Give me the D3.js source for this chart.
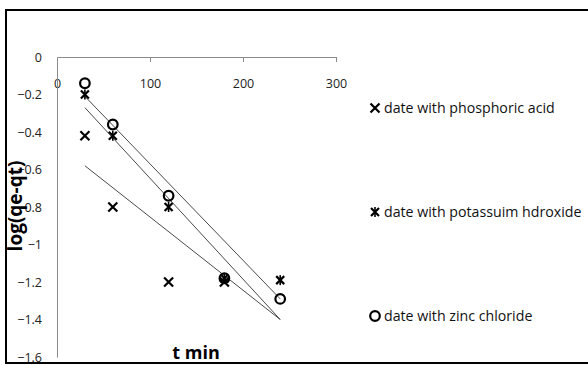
<!DOCTYPE html>
<html>
<head>
<meta charset="utf-8">
<script src="https://cdn.jsdelivr.net/npm/d3@7"></script>
<style>
  body { margin: 0; background: #fff; }
  svg { display: block; }
  text { font-family: "Open Sans", "DejaVu Sans", sans-serif; }
</style>
</head>
<body>
<svg width="588" height="365"></svg>
<script>
// data
const times = [30, 60, 120, 180, 240];
const phosphoric = [-0.42, -0.8, -1.2, -1.2];
const potassium = [-0.2, -0.42, -0.8, -1.18, -1.19];
const zinc = [-0.14, -0.36, -0.74, -1.18, -1.29];

// trendline ends at t = 30 and t = 240
const trendTimes = [30, 240];
const phosphoricTrend = [-0.58, -1.4];
const potassiumTrend = [-0.27, -1.4];
const zincTrend = [-0.21, -1.29];

const xTicks = [0, 100, 200, 300];
const yTicks = [0, -0.2, -0.4, -0.6, -0.8, -1, -1.2, -1.4, -1.6];

const seriesNames = ["date with phosphoric acid", "date with potassuim hdroxide", "date with zinc chloride"];

const svg = d3.select("svg");

svg.append("rect")
    .attr("x", 6).attr("y", 10)
    .attr("width", 600).attr("height", 353)
    .attr("fill", "none")
    .attr("stroke", "#000")
    .attr("stroke-width", 2);

const x = d3.scaleLinear().domain([0, 300]).range([57, 336]);
const y = d3.scaleLinear().domain([-1.6, 0]).range([357, 57]);

// x axis sits on top (y = 0), labels dropped below it like the original
const xAxis = svg.append("g")
    .attr("transform", `translate(0,${y(0)})`)
    .call(d3.axisBottom(x).tickValues(xTicks).tickSize(5).tickSizeOuter(0).tickFormat(d3.format("d")));
xAxis.select(".domain").attr("stroke", "#8a8a8a");
xAxis.selectAll(".tick line").attr("stroke", "#8a8a8a").filter(d => d === 0).remove();
xAxis.selectAll(".tick text")
    .attr("y", 22)
    .attr("font-size", 12.5)
    .attr("fill", "#222")
    .attr("font-family", "Open Sans, sans-serif");

const yAxis = svg.append("g")
    .attr("transform", `translate(${x(0)},0)`)
    .call(d3.axisLeft(y).tickValues(yTicks).tickSize(0).tickFormat(d => d === 0 ? "0" : d3.format("")(d)));
yAxis.select(".domain").attr("stroke", "#8a8a8a");
yAxis.selectAll(".tick text")
    .attr("x", -15)
    .attr("font-size", 12.5)
    .attr("fill", "#222")
    .attr("font-family", "Open Sans, sans-serif");

// trendlines
const trends = [phosphoricTrend, potassiumTrend, zincTrend];
const line = d3.line().x((d, i) => x(trendTimes[i])).y(d => y(d));
svg.append("g").selectAll("path")
    .data(trends)
    .join("path")
    .attr("d", d => line(d))
    .attr("fill", "none")
    .attr("stroke", "#4a4a4a")
    .attr("stroke-width", 1);

function cross(g, s) {
    g.append("path")
        .attr("d", `M${-s},${-s}L${s},${s}M${-s},${s}L${s},${-s}`)
        .attr("stroke", "#000").attr("stroke-width", 2.2).attr("fill", "none");
}
function star(g, s) {
    cross(g, s);
    g.append("path")
        .attr("d", `M0,${-s - 1}L0,${s + 1}`)
        .attr("stroke", "#000").attr("stroke-width", 1.6);
}
function ring(g, s) {
    g.append("circle").attr("r", s)
        .attr("fill", "none").attr("stroke", "#000").attr("stroke-width", 2.2);
}
const drawers = [g => cross(g, 4.5), g => star(g, 4), g => ring(g, 4.8)];

[phosphoric, potassium, zinc].forEach((vals, k) => {
    svg.append("g").selectAll("g")
        .data(vals)
        .join("g")
        .attr("transform", (d, i) => `translate(${x(times[i])},${y(d)})`)
        .each(function () { drawers[k](d3.select(this)); });
});

// legend
const legendY = [108, 212, 316];
seriesNames.forEach((name, k) => {
    const g = svg.append("g").attr("transform", `translate(375,${legendY[k]})`);
    drawers[k](g);
    g.append("text")
        .attr("x", 9).attr("y", 5)
        .attr("font-size", 14.2)
        .attr("fill", "#111")
        .text(name);
});

svg.append("text")
    .attr("transform", "translate(22,206) rotate(-90)")
    .attr("text-anchor", "middle")
    .attr("font-size", 19)
    .attr("font-weight", "bold")
    .attr("font-family", "Open Sans, sans-serif")
    .text("log(qe-qt)");

svg.append("text")
    .attr("x", 196).attr("y", 359)
    .attr("text-anchor", "middle")
    .attr("font-size", 18)
    .attr("font-weight", "bold")
    .text("t min");
</script>
</body>
</html>
